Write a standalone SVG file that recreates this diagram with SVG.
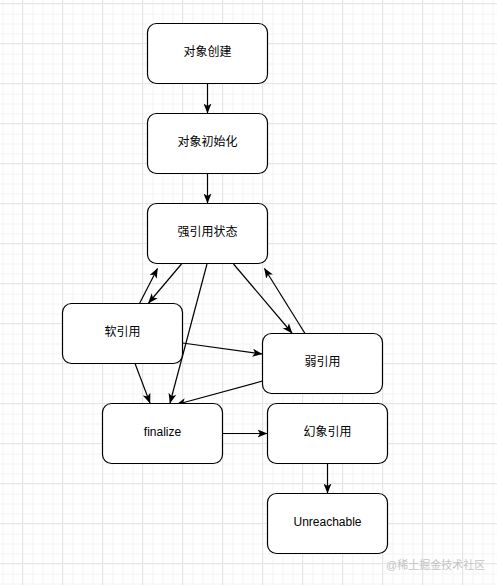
<svg xmlns="http://www.w3.org/2000/svg" width="497" height="585" viewBox="0 0 497 585">
<defs>
<pattern id="minor" x="2.5" y="3.5" width="10" height="10" patternUnits="userSpaceOnUse">
<path d="M0.5,0 V10 M0,0.5 H10" stroke="#f3f3f3" stroke-width="1" fill="none"/>
</pattern>
<pattern id="major" x="22" y="3" width="40" height="40" patternUnits="userSpaceOnUse">
<path d="M0.5,0 V40 M0,0.5 H40" stroke="#e6e6e6" stroke-width="1" fill="none"/>
</pattern>
<marker id="arr" viewBox="0 0 10 8" refX="9.5" refY="4" markerWidth="10" markerHeight="8" markerUnits="userSpaceOnUse" orient="auto">
<path d="M10,4 L0,0 L2.5,4 L0,8 Z" fill="#000"/>
</marker>
</defs>
<style>
.node rect{fill:#fff;stroke:#000;stroke-width:1.2}
.node text{font-family:"Liberation Sans","Noto Sans CJK SC",sans-serif;font-size:12px;fill:#000;text-anchor:middle;dominant-baseline:central}
.edges path{fill:none;stroke:#000;stroke-width:1.2;marker-end:url(#arr)}
.wm{font-family:"Liberation Sans","Noto Sans CJK SC",sans-serif;font-size:11px;fill:#c4c4c4}
</style>
<rect width="497" height="585" fill="#fff"/>
<rect width="497" height="585" fill="url(#minor)"/>
<rect width="497" height="585" fill="url(#major)"/>
<g class="edges" id="connectors">
<path d="M207.5,83.5 V113"/>
<path d="M207.5,173.5 V203"/>
<path d="M181.5,264 L148.5,303"/>
<path d="M139.5,303.5 L157.5,268.5"/>
<path d="M207,264 L170,403"/>
<path d="M233.5,264 L292,333"/>
<path d="M305,333.5 L264.5,268.5"/>
<path d="M182.5,343 L262,354"/>
<path d="M135,363.5 L150,403"/>
<path d="M262.5,381 L176.5,404.5"/>
<path d="M222.5,433.5 H267"/>
<path d="M327.5,463.5 V493"/>
</g>
<g class="node" id="n-create"><rect x="147.5" y="23.5" width="120" height="60" rx="9"/><text x="207.5" y="52">对象创建</text></g>
<g class="node" id="n-init"><rect x="147.5" y="113.5" width="120" height="60" rx="9"/><text x="207.5" y="142">对象初始化</text></g>
<g class="node" id="n-strong"><rect x="147.5" y="203.5" width="120" height="60" rx="9"/><text x="207.5" y="232">强引用状态</text></g>
<g class="node" id="n-soft"><rect x="62.5" y="303.5" width="120" height="60" rx="9"/><text x="122.5" y="332">软引用</text></g>
<g class="node" id="n-weak"><rect x="262.5" y="333.5" width="120" height="60" rx="9"/><text x="322.5" y="362">弱引用</text></g>
<g class="node" id="n-finalize"><rect x="102.5" y="403.5" width="120" height="60" rx="9"/><text x="162.5" y="432">finalize</text></g>
<g class="node" id="n-phantom"><rect x="267.5" y="403.5" width="120" height="60" rx="9"/><text x="327.5" y="432">幻象引用</text></g>
<g class="node" id="n-unreach"><rect x="267.5" y="493.5" width="120" height="60" rx="9"/><text x="327.5" y="522">Unreachable</text></g>
<text class="wm" x="386" y="569">@稀土掘金技术社区</text>
</svg>
